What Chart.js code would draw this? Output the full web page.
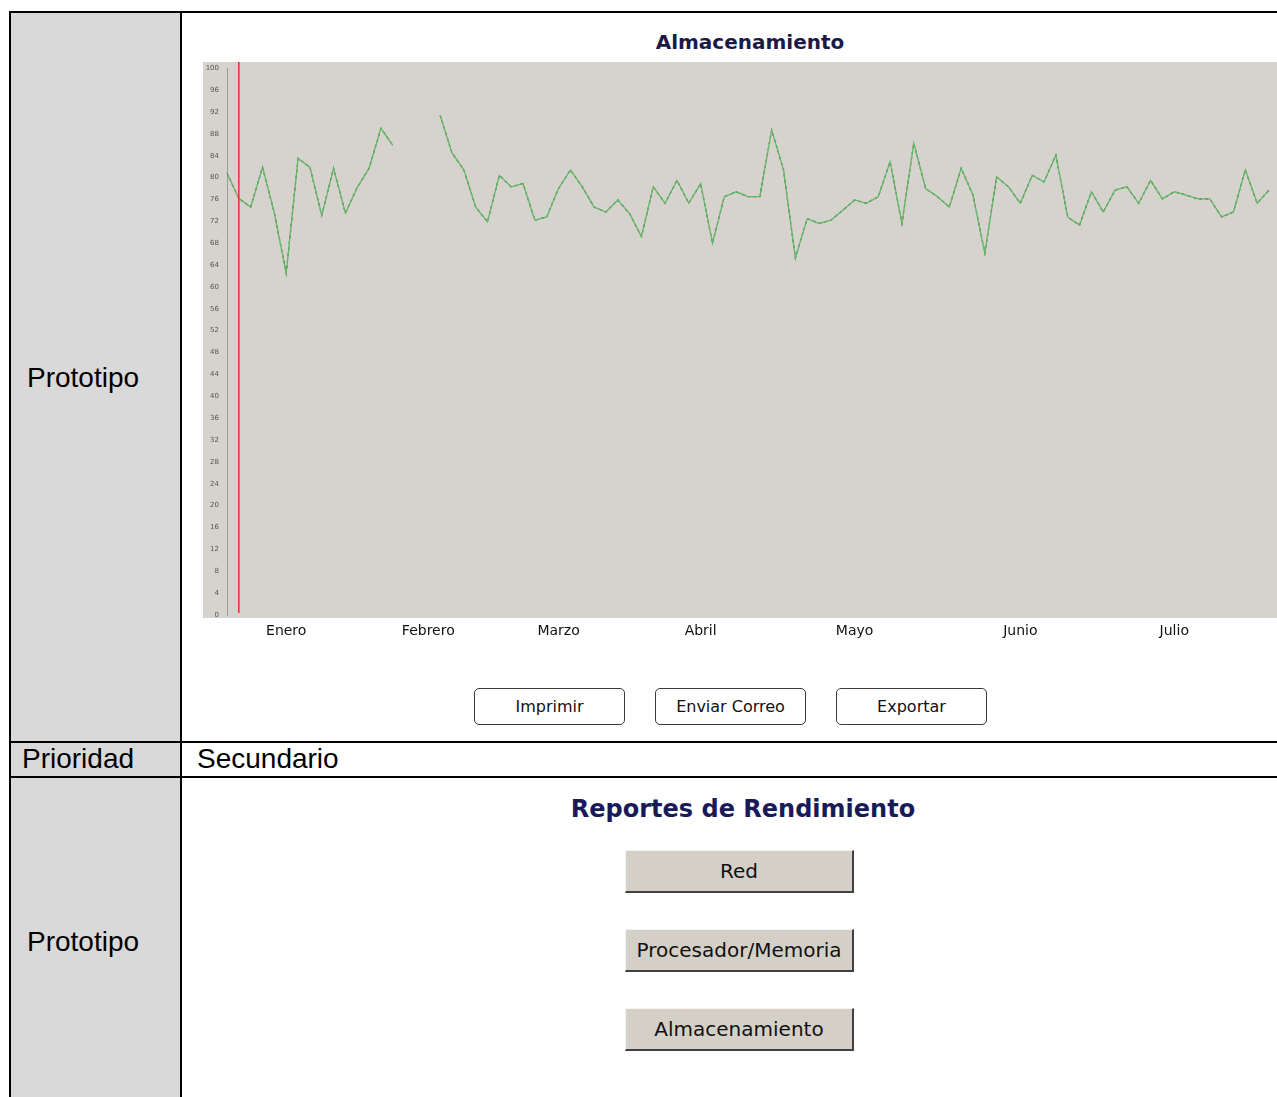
<!DOCTYPE html>
<html lang="es">
<head>
<meta charset="utf-8">
<title>Almacenamiento</title>
<script src="https://cdn.jsdelivr.net/npm/chart.js@4.4.1/dist/chart.umd.min.js"></script>
<style>
    html, body {
        margin: 0;
        padding: 0;
        background: #fff;
    }
    body {
        width: 1277px;
        height: 1097px;
        overflow: hidden;
        position: relative;
        font-family: "Liberation Sans", Arial, sans-serif;
    }
    .line { position: absolute; background: #000; }
    .fill { position: absolute; background: #d9d9d9; }
    .cell-text {
        position: absolute;
        font-size: 28px;
        color: #000;
        line-height: 30px;
        white-space: nowrap;
    }
    .heading {
        position: absolute;
        transform: translateX(-50%);
        font-family: "DejaVu Sans", sans-serif;
        font-weight: bold;
        white-space: nowrap;
    }
    .btn {
        position: absolute;
        box-sizing: border-box;
        width: 151px;
        height: 37px;
        background: #fff;
        border: 1px solid #3a3a3a;
        border-radius: 5px;
        font-family: "DejaVu Sans", sans-serif;
        font-size: 16px;
        color: #111;
        text-align: center;
        line-height: 35px;
    }
    .btn3d {
        position: absolute;
        box-sizing: border-box;
        left: 625px;
        width: 229px;
        height: 43px;
        background: #d4d0c8;
        border-top: 1px solid #f4f4f4;
        border-left: 1px solid #f4f4f4;
        border-right: 2px solid #404040;
        border-bottom: 2px solid #404040;
        font-family: "DejaVu Sans", sans-serif;
        font-size: 20px;
        color: #111;
        text-align: center;
        line-height: 40px;
    }
    #chart-box {
        position: absolute;
        left: 203px;
        top: 56px;
        width: 1074px;
        height: 599px;
    }
</style>
</head>
<body>

<!-- table frame -->
<div class="fill" style="left:11px; top:13px; width:169px; height:728px;"></div>
<div class="fill" style="left:11px; top:743px; width:169px; height:33px;"></div>
<div class="fill" style="left:11px; top:778px; width:169px; height:319px;"></div>
<div class="line" style="left:9px; top:11px; width:1300px; height:2px;"></div>
<div class="line" style="left:9px; top:741px; width:1300px; height:2px;"></div>
<div class="line" style="left:9px; top:776px; width:1300px; height:2px;"></div>
<div class="line" style="left:9px; top:11px; width:2px; height:1090px;"></div>
<div class="line" style="left:180px; top:11px; width:2px; height:1090px;"></div>

<div class="cell-text" style="left:27px; top:363px;">Prototipo</div>
<div class="cell-text" style="left:22px; top:744px;">Prioridad</div>
<div class="cell-text" style="left:197px; top:744px;">Secundario</div>
<div class="cell-text" style="left:27px; top:927px;">Prototipo</div>

<!-- chart section -->
<div class="heading" style="left:750px; top:30px; font-size:20px; color:#1a1a48;">Almacenamiento</div>
<div id="chart-box"><canvas id="storage-chart"></canvas></div>

<div class="btn" style="left:474px; top:688px;">Imprimir</div>
<div class="btn" style="left:655px; top:688px;">Enviar Correo</div>
<div class="btn" style="left:836px; top:688px;">Exportar</div>

<!-- reports section -->
<div class="heading" style="left:743px; top:795px; font-size:24px; color:#1a1a58;">Reportes de Rendimiento</div>
<div class="btn3d" style="top:850px;">Red</div>
<div class="btn3d" style="top:929px;">Procesador/Memoria</div>
<div class="btn3d" style="top:1008px;">Almacenamiento</div>

<script>
// Storage usage readings (gap = no data)
const storageValues = [
    80.8, 76.2, 74.6, 81.9, 73.5, 62.5, 83.5, 81.9, 73.1, 81.7,
    73.5, 78.2, 81.7, 89.0, 85.9, null, null, null, 91.4, 84.5,
    81.4, 74.6, 71.9, 80.4, 78.3, 78.9, 72.2, 72.8, 78.0, 81.4,
    78.3, 74.6, 73.7, 75.9, 73.4, 69.2, 78.3, 75.3, 79.5, 75.3,
    78.9, 68.0, 76.5, 77.4, 76.5, 76.5, 88.7, 81.4, 65.3, 72.5,
    71.6, 72.2, 74.0, 75.9, 75.3, 76.5, 82.9, 71.6, 86.3, 78.0,
    76.5, 74.6, 81.7, 76.8, 66.2, 80.1, 78.3, 75.3, 80.4, 79.2,
    84.1, 72.8, 71.3, 77.4, 73.7, 77.7, 78.3, 75.3, 79.5, 76.1,
    77.4, 76.8, 76.1, 76.1, 72.8, 73.7, 81.4, 75.3, 77.7
];

// Month captions and the reading each one sits under
const monthNames = ['Enero', 'Febrero', 'Marzo', 'Abril', 'Mayo', 'Junio', 'Julio'];
const monthIndex = [5, 17, 28, 40, 53, 67, 80];

// Y axis range
const yMin = 0;
const yMax = 100;
const yStep = 4;

// Reading marked by the red cursor
const markerIndex = 1;

// Build category labels: month name under its reading, blank elsewhere
const pointLabels = storageValues.map((v, i) => {
    const k = monthIndex.indexOf(i);
    return k >= 0 ? monthNames[k] : '';
});

// Gray panel behind plot and y labels
const panelTop = 6;
const panelBackground = {
    id: 'panelBackground',
    beforeDraw(chart) {
        const ctx = chart.ctx;
        ctx.save();
        ctx.fillStyle = '#d6d3ce';
        ctx.fillRect(0, panelTop, chart.width, chart.chartArea.bottom + 3 - panelTop);
        ctx.restore();
    }
};

// Red vertical cursor line
const cursorLine = {
    id: 'cursorLine',
    afterDatasetsDraw(chart) {
        const ctx = chart.ctx;
        const x = chart.scales.x.getPixelForValue(markerIndex);
        ctx.save();
        ctx.strokeStyle = '#e0303c';
        ctx.lineWidth = 1.5;
        ctx.beginPath();
        ctx.moveTo(x, panelTop);
        ctx.lineTo(x, chart.chartArea.bottom - 2);
        ctx.stroke();
        ctx.restore();
    }
};

const ctx = document.getElementById('storage-chart').getContext('2d');

new Chart(ctx, {
    type: 'line',
    data: {
        labels: pointLabels,
        datasets: [
            {
                data: storageValues,
                borderColor: '#66b866',
                borderWidth: 1.3,
                pointRadius: 0,
                tension: 0,
                spanGaps: false
            },
            {
                data: storageValues,
                borderColor: '#2f4f35',
                borderWidth: 1.2,
                borderDash: [3, 3],
                pointRadius: 0,
                tension: 0,
                spanGaps: false
            }
        ]
    },
    options: {
        responsive: true,
        maintainAspectRatio: false,
        animation: false,
        layout: {
            padding: { top: 1, right: 2, left: 0, bottom: 0 }
        },
        plugins: {
            legend: { display: false },
            tooltip: { enabled: false }
        },
        scales: {
            x: {
                type: 'category',
                offset: false,
                grid: { display: false, drawTicks: false },
                border: { display: false },
                ticks: {
                    autoSkip: false,
                    maxRotation: 0,
                    padding: 8,
                    color: '#111',
                    font: { family: 'DejaVu Sans', size: 14 }
                },
                afterFit(scale) {
                    scale.height = 40;
                }
            },
            y: {
                min: yMin,
                max: yMax,
                grid: { display: false, drawTicks: false },
                border: { display: true, color: '#9a9a9a' },
                ticks: {
                    stepSize: yStep,
                    padding: 8,
                    color: '#555',
                    font: { family: 'DejaVu Sans', size: 7 }
                },
                afterFit(scale) {
                    scale.width = 24;
                }
            }
        }
    },
    plugins: [panelBackground, cursorLine]
});
</script>
</body>
</html>
